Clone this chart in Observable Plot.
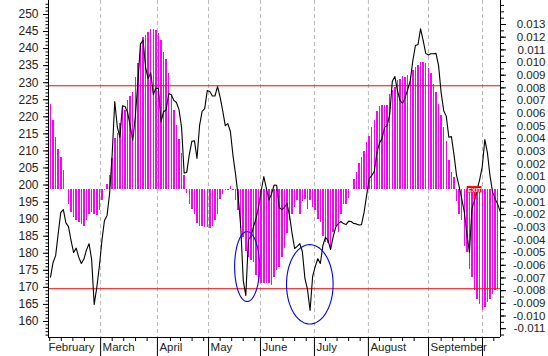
<!DOCTYPE html>
<html><head><meta charset="utf-8">
<script src="https://cdn.jsdelivr.net/npm/d3@7"></script>
<script src="https://cdn.jsdelivr.net/npm/@observablehq/plot@0.6"></script>
<style>
html,body{margin:0;padding:0;background:#fff;}
#chart svg{display:block;}
</style></head><body><div id="chart"></div>
<script>
// Price (left axis), one value per trading day
const price = [173.0,177.3,179.3,185.8,192.0,192.8,188.9,187.8,183.7,180.2,
181.5,178.8,177.0,178.3,181.0,182.8,178.2,165.0,169.9,176.1,
183.7,189.6,191.1,197.5,209.0,224.5,217.0,214.0,223.2,223.0,
221.3,217.4,213.0,220.1,230.1,241.3,242.5,234.5,231.2,233.0,
226.5,228.4,228.3,218.5,221.5,222.0,226.8,226.5,224.8,224.2,
222.1,216.9,203.5,203.7,208.9,212.8,213.0,207.8,217.4,221.6,
222.4,227.7,227.4,226.1,226.1,228.9,225.8,221.8,217.4,218.0,
215.7,208.7,203.2,196.9,188.1,172.0,167.6,184.0,184.9,187.8,
190.2,193.7,198.4,202.5,199.0,195.6,197.4,200.0,199.9,193.4,
192.8,193.4,194.6,191.1,185.8,181.4,182.0,182.8,180.5,172.6,
169.4,163.2,173.2,176.1,178.4,177.0,182.3,184.7,183.7,181.1,
184.9,187.7,188.7,189.3,188.7,188.4,189.4,189.3,188.7,188.6,
188.3,188.4,191.9,196.9,201.9,202.8,204.0,209.5,212.3,213.6,
216.9,217.4,220.7,230.4,231.8,227.7,224.8,223.9,225.7,228.0,
230.6,236.5,240.9,241.2,245.8,242.4,238.6,238.1,238.5,238.5,
238.6,235.0,227.1,221.8,220.2,214.0,214.2,208.9,202.8,199.6,
196.0,192.2,185.8,180.3,193.1,195.6,198.7,201.6,205.4,213.3,
209.5,202.8,198.0,196.0,194.4,192.2];

// Oscillator histogram (right axis), one value per trading day
const signal = [0.0067,0.0054,0.0041,0.0031,0.0025,0.0015,0,-0.0012,-0.0018,-0.0022,
-0.0025,-0.0026,-0.0028,-0.0029,-0.0025,-0.0020,-0.0018,-0.0020,-0.0021,-0.0017,
-0.0009,-0.0001,0.0004,0.0011,0.0024,0.0040,0.0044,0.0052,0.0065,0.0062,
0.0070,0.0073,0.0076,0.0088,0.0099,0.0115,0.0120,0.0121,0.0124,0.0126,
0.0126,0.0125,0.0123,0.0117,0.0108,0.0102,0.0091,0.0074,0.0062,0.0050,
0.0039,0.0028,0.0011,-0.0003,-0.0012,-0.0016,-0.0020,-0.0027,-0.0029,-0.0029,
-0.0030,-0.0030,-0.0031,-0.0029,-0.0025,-0.0020,-0.0008,-0.0004,-0.0001,-0.0001,
0.0002,-0.0001,-0.0009,-0.0017,-0.0031,-0.0038,-0.0049,-0.0054,-0.0056,-0.0058,
-0.0068,-0.0072,-0.0074,-0.0074,-0.0074,-0.0074,-0.0076,-0.0070,-0.0064,-0.0062,
-0.0054,-0.0047,-0.0035,-0.0025,-0.0020,-0.0014,-0.0009,-0.0020,-0.0010,-0.0008,
-0.0016,-0.0009,-0.0014,-0.0017,-0.0024,-0.0026,-0.0037,-0.0042,-0.0043,-0.0046,
-0.0034,-0.0029,-0.0034,-0.0020,-0.0012,-0.0012,-0.0007,0,0.0008,0.0013,
0.0020,0.0025,0.0030,0.0037,0.0042,0.0049,0.0054,0.0061,0.0065,0.0066,
0.0066,0.0066,0.0075,0.0078,0.0080,0.0086,0.0087,0.0089,0.0088,0.0090,
0.0089,0.0094,0.0096,0.0098,0.0100,0.0100,0.0099,0.0095,0.0091,0.0083,
0.0076,0.0067,0.0058,0.0049,0.0038,0.0023,0.0013,0.0009,-0.0010,-0.0020,
-0.0025,-0.0045,-0.0050,-0.0063,-0.0070,-0.0080,-0.0087,-0.0091,-0.0096,-0.0093,
-0.0089,-0.0087,-0.0083,-0.0080,-0.0079];

const monthNames = ["February","March","April","May","June","July","August","September"];
const monthLabelDay = [-1.6,19.5,41.6,61.5,81.7,102.7,123.7,147.1];
const monthBoundaryDay = [19.5,41.6,61.5,81.7,102.7,123.7,147.1,168.1];
const weekTickDay = [-0.3,4.2,8.7,13.2,24,28.5,33.1,37.6,46.7,50.6,55.1,59.6,66,70.5,75,79.5,
  86,90.5,95,99.5,107,111.5,116,120.5,128,132.5,137,141.5,152,156.5,161,165.5,172.5];
const levelLines = [229.1, 169.6];
const leftTicks = d3.range(160, 251, 5);
const leftMinor = d3.range(156, 254, 1);
const rightTicks = d3.range(-11, 14).map(d => d / 1000);
const rightMinor = d3.range(-23, 30).map(d => d / 2000);
const ellipses = [
  {id: 1, cx: 76.5, cy: 176.1, rx: 4.86, ry: 10.26},
  {id: 2, cx: 100.9, cy: 170.9, rx: 9.07, ry: 11.64}
];
const exitSignal = {day: 165, label: "EXIT", top: 199.55, bottom: 197.7, halfWidth: 2.9};

// right axis mapped onto left axis units
const toLeft = r => 198.76 + r * 3715.5;
const xDomain = [-0.78, 175.1];
const yDomain = [155.3, 254.1];

const priceData = price.map((v, i) => ({i, v}));
const barData = signal.map((v, i) => ({i, v})).filter(d => d.v !== 0);
const ellipsePts = ellipses.flatMap(e => d3.range(0, 73).map(k => {
  const t = k / 72 * 2 * Math.PI;
  return {id: e.id, x: e.cx + e.rx * Math.cos(t), y: e.cy + e.ry * Math.sin(t)};
}));

const chart = Plot.plot({
  width: 548, height: 356,
  marginLeft: 48, marginRight: 48, marginTop: 0, marginBottom: 19,
  x: {domain: xDomain, axis: null},
  y: {domain: yDomain, axis: null},
  style: {fontFamily: "'Liberation Sans', Arial, sans-serif", fontSize: "12px", color: "#000", background: "#fff", overflow: "visible"},
  marks: [
    Plot.ruleX(monthBoundaryDay, {stroke: "#b8b8b8", strokeDasharray: "4,3"}),
    Plot.ruleX(barData, {x: "i", y1: toLeft(0), y2: d => toLeft(d.v), stroke: "#ff00ff", strokeWidth: 1.5, shapeRendering: "crispEdges"}),
    Plot.ruleY(levelLines, {stroke: "#ff0000", strokeWidth: 1}),
    Plot.line(priceData, {x: "i", y: "v", stroke: "#000", strokeWidth: 1.1}),
    Plot.line(ellipsePts, {x: "x", y: "y", z: "id", stroke: "#0000ff", strokeWidth: 1.1}),
    Plot.ruleX([exitSignal], {x: "day", y1: "bottom", y2: () => price[exitSignal.day], stroke: "#ff0000", strokeWidth: 2}),
    Plot.rect([exitSignal], {x1: d => d.day - d.halfWidth, x2: d => d.day + d.halfWidth, y1: "bottom", y2: "top", fill: "#ff0000"}),
    Plot.text([exitSignal], {x: "day", y: d => (d.top + d.bottom) / 2, text: "label", fill: "#fff", fontSize: 6, fontWeight: "bold"}),
    // frame lines
    Plot.ruleX([xDomain[0], xDomain[1]], {stroke: "#000"}),
    Plot.ruleY([yDomain[0]], {stroke: "#000"}),
    // left axis
    Plot.axisY(leftMinor, {anchor: "left", tickSize: 2.5, tickFormat: () => "", label: null}),
    Plot.axisY(leftTicks, {anchor: "left", tickSize: 5, tickPadding: 5, fontSize: 12, fill: "#222", label: null}),
    // right axis
    Plot.axisY(rightMinor, {anchor: "right", y: toLeft, tickSize: 3, tickFormat: () => "", label: null}),
    Plot.axisY(rightTicks, {anchor: "right", y: toLeft, tickSize: 5, tickPadding: 40, textAnchor: "end",
      text: d => d.toFixed(3), fontSize: 11.5, fill: "#222", label: null}),
    // bottom axis
    Plot.axisX(weekTickDay, {anchor: "bottom", tickSize: 4, tickFormat: () => "", label: null}),
    Plot.axisX(monthBoundaryDay, {anchor: "bottom", tickSize: 19, tickFormat: () => "", label: null}),
    Plot.text(monthNames, {x: (d, i) => monthLabelDay[i], y: 151.2, text: d => d, textAnchor: "start", lineAnchor: "bottom", dx: 2, fontSize: 11.5, fill: "#222"})
  ]
});
document.getElementById("chart").append(chart);
</script></body></html>
